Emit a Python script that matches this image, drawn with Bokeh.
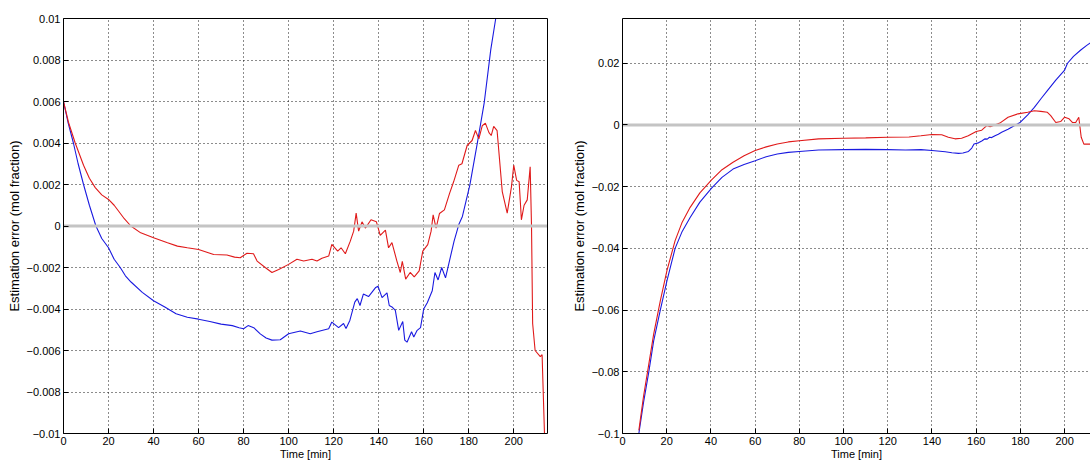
from bokeh.plotting import figure
from bokeh.layouts import row
from bokeh.models import FixedTicker, LinearAxis, Range1d
from bokeh.embed import file_html
from bokeh.resources import INLINE

# ---------------- data ----------------
x_ticks = [0, 20, 40, 60, 80, 100, 120, 140, 160, 180, 200]
left_y_ticks = [-0.01, -0.008, -0.006, -0.004, -0.002, 0, 0.002, 0.004, 0.006, 0.008, 0.01]
left_y_labels = ["\u22120.01", "\u22120.008", "\u22120.006", "\u22120.004", "\u22120.002", "0",
                 "0.002", "0.004", "0.006", "0.008", "0.01"]
right_y_ticks = [-0.1, -0.08, -0.06, -0.04, -0.02, 0, 0.02]
right_y_labels = ["\u22120.1", "\u22120.08", "\u22120.06", "\u22120.04", "\u22120.02", "0", "0.02"]

x_label = "Time [min]"
y_label = "Estimation error (mol fraction)"

# left panel, blue estimator
left_blue_t = [0, 2, 4.4, 6.5, 8.9, 11.5, 14.4, 17, 20, 22.5, 25.2, 27.5, 30, 35, 40, 45, 50, 55, 60,
               65, 70, 75, 78, 80, 82, 84.5, 87.4, 90, 92.6, 96.3, 100, 105.2, 109.6, 112.6, 117.8,
               119.2, 122.2, 124.4, 125.5, 127.2, 129.4, 130.5, 131.7, 133.2, 135.5, 138.7, 139.7,
               141.5, 143.7, 144.7, 145.9, 147.4, 148.9, 150.7, 151.6, 152.6, 154.6, 155.6, 157.1,
               158.6, 160, 161.6, 163.8, 165, 166.4, 168, 169.7, 171.2, 173.5, 175.7, 177.2, 180.5,
               183.9, 186.9, 189.8, 192, 194]
left_blue_v = [0.006, 0.005, 0.004, 0.003, 0.002, 0.001, 0.0, -0.0006, -0.00105, -0.0016, -0.002,
               -0.0024, -0.0027, -0.0032, -0.0036, -0.0039, -0.00423, -0.0044, -0.00449, -0.0046,
               -0.00473, -0.0048, -0.0049, -0.00495, -0.0048, -0.0049, -0.0052, -0.0054, -0.0055,
               -0.00548, -0.00519, -0.00506, -0.00519, -0.0051, -0.00495, -0.00463, -0.0049,
               -0.0047, -0.00494, -0.00455, -0.00367, -0.0035, -0.00383, -0.00328, -0.0034,
               -0.00296, -0.0029, -0.00345, -0.00322, -0.00383, -0.0039, -0.00407, -0.00503,
               -0.0046, -0.0055, -0.0056, -0.0051, -0.00535, -0.00503, -0.0049, -0.004, -0.0037,
               -0.00312, -0.00224, -0.0026, -0.002, -0.0025, -0.0018, -0.00073, 0.0001, 0.00046,
               0.00197, 0.00404, 0.00595, 0.0085, 0.01, 0.0112]

# left panel, red estimator
left_red_t = [0, 2.2, 5.2, 8.9, 11.5, 14.1, 17, 20, 22.5, 24.6, 27, 29.9, 34.3, 40, 46.2, 50.6, 55,
              60, 66.7, 72.6, 76, 78.5, 81.5, 84.4, 86, 89.6, 92.6, 95.6, 100, 103.7, 106.7, 110.4,
              112.6, 114.8, 117.8, 119.2, 121.8, 123.3, 125.2, 127.4, 128.9, 130, 131.1, 132.6,
              134.1, 136.6, 139, 140.7, 143, 144.4, 145.9, 148.1, 149.6, 150.5, 152, 154, 155.8,
              158, 159.6, 161.8, 163.3, 164.2, 165.5, 167, 169.2, 171.5, 173.3, 175.6, 177, 179.3,
              181.5, 183, 184.5, 186, 187.4, 189, 190, 191.1, 192.6, 194.9, 197.1, 199, 200, 201.3,
              202.4, 203.4, 204.6, 206, 207.3, 207.9, 208.4, 209.5, 211.8, 212.6, 213.8]
left_red_v = [0.006, 0.005, 0.004, 0.00293, 0.0023, 0.00185, 0.0015, 0.00128, 0.001, 0.0007,
              0.00035, 0.0, -0.00033, -0.00057, -0.00081, -0.00097, -0.00105, -0.00113, -0.00137,
              -0.0014, -0.0015, -0.00153, -0.00131, -0.00134, -0.00169, -0.002, -0.00224, -0.0021,
              -0.00185, -0.0016, -0.00169, -0.0016, -0.00169, -0.00155, -0.00145, -0.00089,
              -0.00121, -0.00105, -0.00134, -0.00073, -0.00025, 0.00062, -0.00025, 0.0002, -0.0001,
              0.0003, 0.0002, -0.00045, -0.0002, -0.00105, -0.0008, -0.00169, -0.00224, -0.0017,
              -0.00256, -0.00224, -0.00245, -0.00216, -0.00121, -0.0009, -0.00025, 0.00054,
              -0.0001, 0.0006, 0.00078, 0.00157, 0.00213, 0.00293, 0.003, 0.00388, 0.00412, 0.0046,
              0.0042, 0.00483, 0.00496, 0.0045, 0.00436, 0.0048, 0.0046, 0.00166, 0.00062, 0.0019,
              0.00293, 0.0022, 0.00213, 0.0003, 0.001, 0.00126, 0.00285, 0.0, -0.0047, -0.006,
              -0.0063, -0.0062, -0.0105]

# right panel, blue estimator
right_blue_t = [7.4, 9.5, 11.9, 14.1, 17.1, 20.1, 23.8, 27, 30.6, 35, 40.3, 45, 50, 55, 60, 65, 70,
                75, 80, 88.7, 100, 110, 120, 128, 135, 140, 146, 149, 152, 154, 156.5, 158, 159,
                161, 162.5, 164, 165, 166, 167, 168.5, 170, 171.5, 174.4, 177.4, 180, 183.3, 186.3,
                189.2, 192.2, 196, 200, 201.3, 204, 207.3, 210, 212]
right_blue_v = [-0.1, -0.09, -0.08, -0.07, -0.06, -0.0505, -0.04, -0.0345, -0.03, -0.025, -0.0205,
                -0.017, -0.0143, -0.0128, -0.0116, -0.0103, -0.0094, -0.0089, -0.0086, -0.0081,
                -0.008, -0.0079, -0.008, -0.0081, -0.008, -0.0083, -0.0087, -0.009, -0.0092,
                -0.0091, -0.0086, -0.0075, -0.0062, -0.0058, -0.0052, -0.0045, -0.0046, -0.004,
                -0.0041, -0.0035, -0.003, -0.0024, -0.0014, -0.0002, 0.0009, 0.0033, 0.0057,
                0.0084, 0.0111, 0.0145, 0.0178, 0.02, 0.0222, 0.0243, 0.0258, 0.0268]

# right panel, red estimator
right_red_t = [7.4, 9.5, 11.9, 14.1, 17.1, 20.1, 23.8, 27, 30.6, 35, 40.3, 45, 50, 55, 60, 65, 70,
               75, 80, 88.7, 100, 110, 120, 129.6, 135, 140, 144.4, 147.4, 150.4, 153.4, 156.4, 160,
               162.5, 164.8, 166.3, 170.7, 174.4, 178.9, 183.3, 186.3, 189.2, 192.2, 193.7, 196,
               198.2, 200, 202, 203.5, 205, 206.4, 207.5, 208.7, 211.7]
right_red_v = [-0.099, -0.088, -0.0775, -0.0678, -0.057, -0.0472, -0.0375, -0.0315, -0.0267,
               -0.022, -0.0178, -0.0145, -0.0121, -0.01, -0.0083, -0.0071, -0.0062, -0.0055,
               -0.0051, -0.0045, -0.0043, -0.0042, -0.004, -0.0039, -0.0035, -0.0031, -0.0032,
               -0.004, -0.0045, -0.0043, -0.0035, -0.0021, -0.0017, -0.0002, -0.0006, 0.0006,
               0.0025, 0.0036, 0.0041, 0.0046, 0.0044, 0.0041, 0.003, 0.0008, 0.0011, 0.0025,
               0.002, 0.0008, 0.0008, 0.0025, -0.004, -0.0062, -0.0062]

zero_t = [0, 215]
zero_v = [0, 0]

FONT = "Liberation Sans"


def make_fig(width, mbl, mbr, mbt, mbb, xend, y0, y1, yticks, ylabels, box_right):
    p = figure(width=width, height=466, x_range=Range1d(0, xend), y_range=Range1d(y0, y1),
               output_backend="svg", toolbar_location=None,
               min_border_left=mbl, min_border_right=mbr, min_border_top=mbt, min_border_bottom=mbb,
               x_axis_label=x_label, y_axis_label=y_label)
    p.outline_line_color = None
    p.background_fill_color = "white"
    p.border_fill_color = "white"

    p.xaxis.ticker = FixedTicker(ticks=x_ticks)
    p.yaxis.ticker = FixedTicker(ticks=yticks)
    p.yaxis.major_label_overrides = {t: l for t, l in zip(yticks, ylabels)}

    for ax in (p.xaxis[0], p.yaxis[0]):
        ax.axis_line_color = "black"
        ax.major_tick_line_color = "black"
        ax.major_tick_in = 5
        ax.major_tick_out = 0
        ax.minor_tick_line_color = None
        ax.major_label_text_font = FONT
        ax.major_label_text_font_size = "11px"
        ax.major_label_text_color = "black"
        ax.major_label_standoff = 3
        ax.axis_label_text_font = FONT
        ax.axis_label_text_font_style = "normal"
        ax.axis_label_text_color = "black"
    p.xaxis.axis_label_text_font_size = "11px"
    p.xaxis.axis_label_standoff = 0
    p.xaxis.major_label_standoff = 3
    p.yaxis.axis_label_text_font_size = "13px"
    p.yaxis.axis_label_standoff = 2

    # box lines (top, and right for the left panel); no ticks, so no texts
    sides = ["above", "right"] if box_right else ["above"]
    for side in sides:
        ax = LinearAxis(ticker=FixedTicker(ticks=[]))
        ax.axis_line_color = "black"
        ax.major_tick_line_color = None
        ax.minor_tick_line_color = None
        ax.major_tick_out = 0
        ax.major_tick_in = 0
        ax.major_label_standoff = 0
        p.add_layout(ax, side)

    for g in (p.xgrid[0], p.ygrid[0]):
        g.grid_line_color = "black"
        g.grid_line_dash = "1 3"
        g.grid_line_width = 1
        g.grid_line_alpha = 0.9
    return p


p1 = make_fig(568, 63, 21, 18, 29, 215, -0.01, 0.01, left_y_ticks, left_y_labels, True)
p1.line(left_blue_t, left_blue_v, line_color="#1a1ae0", line_width=1.1)
p1.line(left_red_t, left_red_v, line_color="#e01a1a", line_width=1.1)
p1.line(zero_t, zero_v, line_color="#c4c4c4", line_width=3)

p2 = make_fig(522, 49, 0, 18, 33, 211.7, -0.1, 0.0345, right_y_ticks, right_y_labels, False)
p2.line(right_blue_t, right_blue_v, line_color="#1a1ae0", line_width=1.1)
p2.line(right_red_t, right_red_v, line_color="#e01a1a", line_width=1.1)
p2.line(zero_t, zero_v, line_color="#c4c4c4", line_width=3)

layout = row(p1, p2)
open("out.html", "w").write(file_html(layout, INLINE))
